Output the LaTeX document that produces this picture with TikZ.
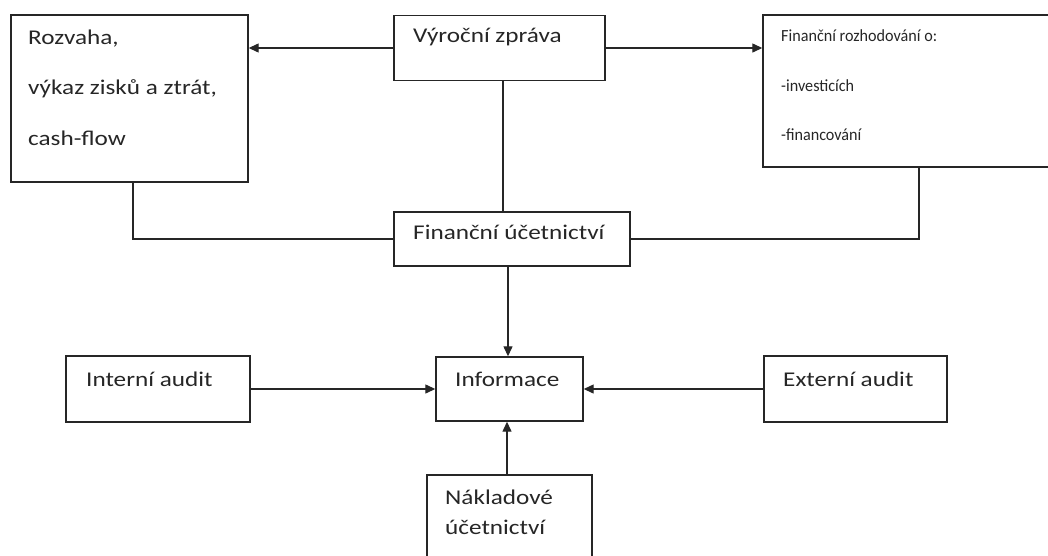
\documentclass[tikz,border=0pt]{standalone}
\usepackage{fontspec}
\setmainfont{Carlito}[FakeStretch=1.2]
\newfontfamily\smallfam{Carlito}[FakeStretch=0.95]
\usetikzlibrary{arrows.meta}
\begin{document}
\begin{tikzpicture}[x=1pt,y=-1pt,
  box/.style={draw=black!85, line width=1.4pt, rectangle, inner sep=0pt},
  txt/.style={anchor=west, inner sep=0pt, font=\fontsize{21}{23}\selectfont, text=black!85},
  stxt/.style={anchor=west, inner sep=0pt, font=\smallfam\fontsize{17}{19}\selectfont, text=black!85},
  ln/.style={draw=black!85, line width=1.3pt},
  arr/.style={ln, -{Triangle[length=10pt,width=9pt]}}]
\useasboundingbox (0,0) rectangle (1048,555);
\clip (0,0) rectangle (1048,555);
% boxes
\node[box, minimum width=237pt, minimum height=167pt] (roz) at (129.5,98.5) {};
\node[box, minimum width=211pt, minimum height=65pt] (vyr) at (499.5,48) {};
\node[box, minimum width=312pt, minimum height=152pt] (fr) at (919,91) {};
\node[box, minimum width=236pt, minimum height=54pt] (fu) at (512,239) {};
\node[box, minimum width=147pt, minimum height=64pt] (inf) at (509.5,389) {};
\node[box, minimum width=184pt, minimum height=66pt] (ia) at (158,389) {};
\node[box, minimum width=183pt, minimum height=66pt] (ea) at (855.5,389) {};
\node[box, minimum width=165pt, minimum height=120pt] (nu) at (509.5,535) {};
% texts
\node[txt] (rozt1) at (28,39) {Rozvaha,};
\node[txt] (rozt2) at (28,89) {výkaz zisků a ztrát,};
\node[txt] (rozt3) at (28,138) {cash-flow};
\node[txt] (vyrt) at (413,37) {Výroční zpráva};
\node[stxt] (frt1) at (781,36) {Finanční rozhodování o:};
\node[stxt] (frt2) at (781,86) {-investicích};
\node[stxt] (frt3) at (781,135) {-financování};
\node[txt] (fut) at (413,232) {Finanční účetnictví};
\node[txt] (inft) at (455,379) {Informace};
\node[txt] (iat) at (86,379) {Interní audit};
\node[txt] (eat) at (783,379) {Externí audit};
\node[txt] (nut1) at (445,497) {Nákladové};
\node[txt] (nut2) at (445,527) {účetnictví};
% connectors
\draw[arr] (vyr.west) -- (roz.east |- vyr.west);
\draw[arr] (vyr.east) -- (fr.west |- vyr.east);
\draw[ln] (vyr.south -| 503,0) -- (fu.north -| 503,0);
\draw[ln] (roz.south -| 133,0) |- (fu.west);
\draw[ln] (fr.south) |- (fu.east);
\draw[arr] (fu.south -| 508,0) -- (inf.north -| 508,0);
\draw[arr] (ia.east) -- (inf.west);
\draw[arr] (ea.west) -- (inf.east);
\draw[arr] (nu.north -| 507,0) -- (inf.south -| 507,0);
\end{tikzpicture}
\end{document}
